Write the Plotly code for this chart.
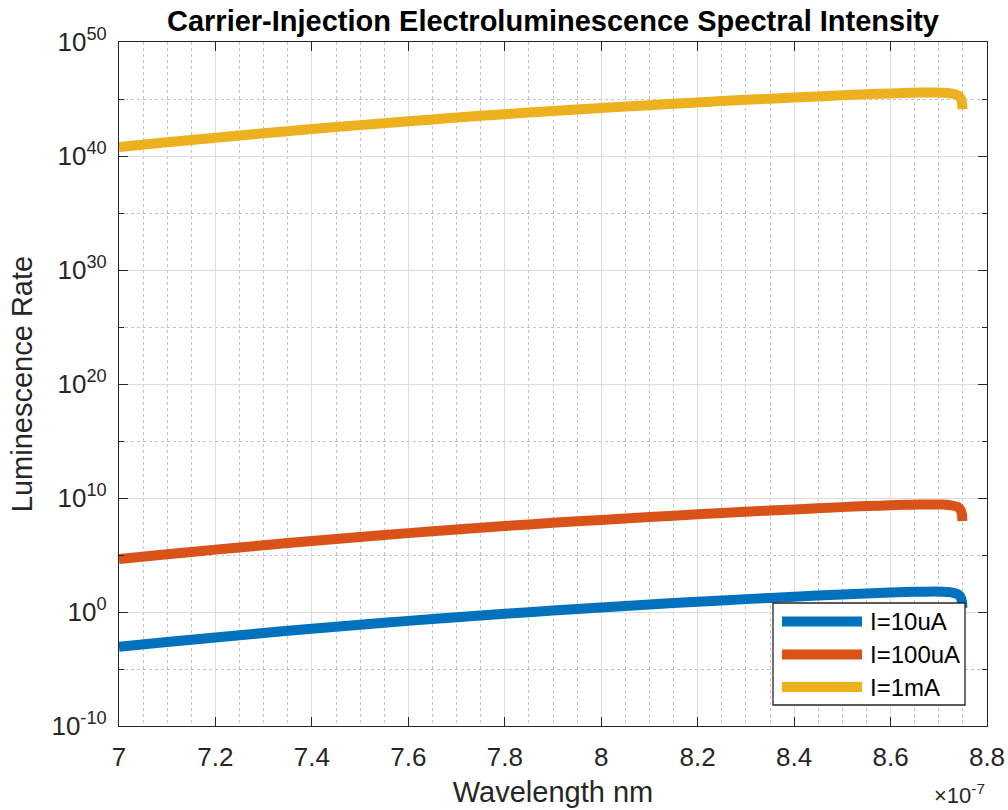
import plotly.graph_objects as go

# ---------------- data ----------------
wavelength_m = [7.00e-7, 7.10e-7, 7.20e-7, 7.30e-7, 7.40e-7, 7.50e-7, 7.60e-7,
                7.70e-7, 7.80e-7, 7.90e-7, 8.00e-7, 8.10e-7, 8.20e-7, 8.30e-7,
                8.40e-7, 8.50e-7, 8.55e-7, 8.60e-7, 8.63e-7, 8.66e-7, 8.69e-7,
                8.71e-7, 8.72e-7, 8.73e-7, 8.74e-7, 8.745e-7, 8.748e-7, 8.749e-7]

# log10 of luminescence rate
log10_rate_10uA = [-3.05, -2.63, -2.23, -1.84, -1.47, -1.12, -0.78, -0.46, -0.16,
                   0.13, 0.40, 0.66, 0.90, 1.13, 1.34, 1.54, 1.63, 1.71, 1.75,
                   1.78, 1.80, 1.78, 1.75, 1.68, 1.54, 1.32, 0.92, 0.35]
log10_rate_100uA = [4.65, 5.07, 5.47, 5.86, 6.23, 6.58, 6.92, 7.24, 7.54,
                    7.82, 8.08, 8.33, 8.57, 8.80, 9.00, 9.20, 9.29, 9.36, 9.40,
                    9.43, 9.44, 9.42, 9.39, 9.32, 9.18, 8.96, 8.56, 7.98]
log10_rate_1mA = [40.78, 41.20, 41.60, 41.99, 42.36, 42.71, 43.05, 43.37, 43.67,
                  43.95, 44.21, 44.46, 44.70, 44.93, 45.13, 45.33, 45.42, 45.49,
                  45.53, 45.56, 45.57, 45.55, 45.52, 45.45, 45.31, 45.09, 44.69, 44.10]

series_names = ["I=10uA", "I=100uA", "I=1mA"]
series_colors = ["#0072BD", "#D95319", "#EDB120"]

x_tick_vals = [7.0e-7, 7.2e-7, 7.4e-7, 7.6e-7, 7.8e-7, 8.0e-7, 8.2e-7, 8.4e-7, 8.6e-7, 8.8e-7]
x_tick_text = ["7", "7.2", "7.4", "7.6", "7.8", "8", "8.2", "8.4", "8.6", "8.8"]
y_tick_exps = [-10, 0, 10, 20, 30, 40, 50]
y_minor_exps = [-5, 5, 15, 25, 35, 45]

# ---------------- figure ----------------
FONT = "Liberation Sans, Arial, Helvetica, sans-serif"
TXT = "#262626"

fig = go.Figure()
all_logs = [log10_rate_10uA, log10_rate_100uA, log10_rate_1mA]
for name, color, logs in zip(series_names, series_colors, all_logs):
    fig.add_trace(go.Scatter(
        x=wavelength_m, y=[10 ** v for v in logs], mode="lines", name=name,
        line=dict(color=color, width=10, shape="spline", smoothing=0.6),
        showlegend=False))

fig.update_layout(
    width=1008, height=810,
    margin=dict(l=119, r=21, t=42, b=84),
    paper_bgcolor="white", plot_bgcolor="white",
    font=dict(family=FONT, color=TXT, size=26),
    title=dict(text="Carrier-Injection Electroluminescence Spectral Intensity",
               x=0.5, xref="paper", xanchor="center",
               y=1 - 21 / 810, yref="container", yanchor="middle",
               font=dict(family=FONT, size=29, color="black", weight=700)),
    xaxis=dict(
        range=[7.0e-7, 8.8e-7], tickmode="array",
        tickvals=x_tick_vals, ticktext=x_tick_text,
        ticks="inside", ticklen=9, tickwidth=1.3, tickcolor=TXT,
        showline=True, linecolor=TXT, linewidth=1.3, mirror="ticks",
        showgrid=True, gridcolor="#dcdcdc", gridwidth=1,
        zeroline=False, ticklabelstandoff=8, automargin=False,
        tickfont=dict(size=26, color=TXT),
        minor=dict(dtick=5e-9, tick0=7.0e-7, showgrid=True, gridcolor="#c4c4c4",
                   griddash="dot", gridwidth=1, ticks=""),
        title=dict(text="Wavelength nm", font=dict(size=29, color=TXT), standoff=10),
    ),
    yaxis=dict(
        type="log", range=[-10, 50], tickmode="array",
        tickvals=[10.0 ** e for e in y_tick_exps],
        ticktext=["10<sup>%d</sup>" % e for e in y_tick_exps],
        ticks="inside", ticklen=9, tickwidth=1.3, tickcolor=TXT,
        showline=True, linecolor=TXT, linewidth=1.3, mirror="ticks",
        showgrid=True, gridcolor="#dcdcdc", gridwidth=1,
        zeroline=False, ticklabelstandoff=6, automargin=False,
        tickfont=dict(size=26, color=TXT),
        minor=dict(tickmode="array", tickvals=[10.0 ** e for e in y_minor_exps],
                   ticks="inside", ticklen=5, tickwidth=1.3, tickcolor=TXT,
                   showgrid=True, gridcolor="#c4c4c4", griddash="dot", gridwidth=1),
        title=dict(text="Luminescence Rate", font=dict(size=29, color=TXT), standoff=10),
    ),
)

# x-axis exponent label
fig.add_annotation(text="\u00d710<sup>-7</sup>", xref="paper", yref="paper",
                   x=1.0, y=-0.099, xanchor="right", yanchor="middle",
                   showarrow=False, font=dict(size=22, color=TXT))

# legend box (MATLAB style, lower right)
def px_x(px):
    return (px - 119) / 868.0

def px_y(py):
    return (726 - py) / 684.0

fig.add_shape(type="rect", xref="paper", yref="paper",
              x0=px_x(773), x1=px_x(965), y0=px_y(705), y1=px_y(603),
              fillcolor="white", line=dict(color=TXT, width=1.3), layer="above")
row_py = [621.5, 654.5, 687.0]
for name, color, py in zip(series_names, series_colors, row_py):
    fig.add_shape(type="line", xref="paper", yref="paper",
                  x0=px_x(782), x1=px_x(862), y0=px_y(py), y1=px_y(py),
                  line=dict(color=color, width=10), layer="above")
    fig.add_annotation(text=name, xref="paper", yref="paper",
                       x=px_x(868), y=px_y(py), xanchor="left", yanchor="middle",
                       showarrow=False, font=dict(size=24, color="black"))

fig.write_html("out.html",
               config={"displayModeBar": False},
               post_script="document.body.style.margin='0';"
                           "document.body.style.overflow='hidden';")
